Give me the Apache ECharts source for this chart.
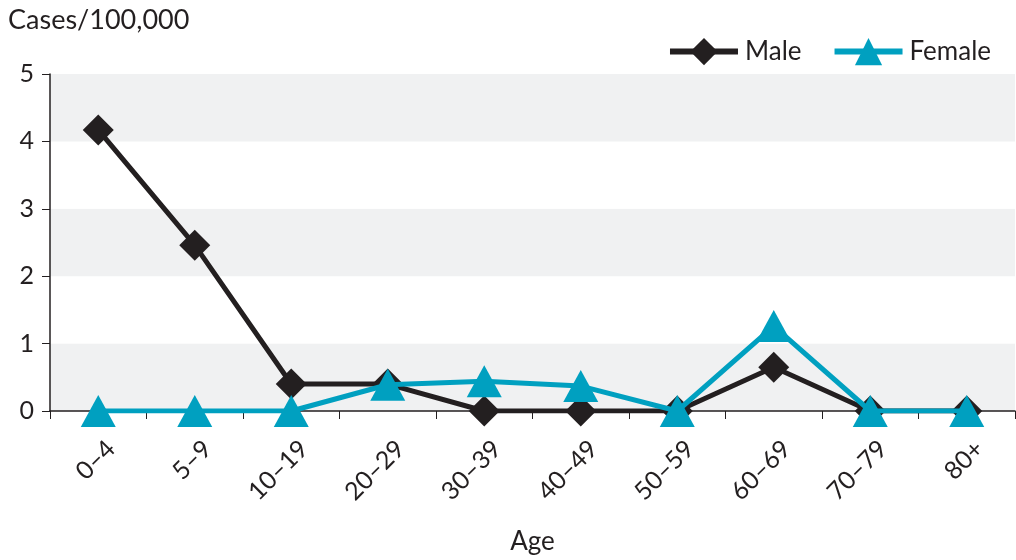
<!DOCTYPE html>
<html><head><meta charset="utf-8">
<script src="https://cdn.jsdelivr.net/npm/echarts@6/dist/echarts.min.js"></script>
<style>html,body{margin:0;padding:0;background:#fff}#c{width:1016px;height:560px}</style>
</head><body><div id="c"></div>
<script>
const categories = ['0–4','5–9','10–19','20–29','30–39','40–49','50–59','60–69','70–79','80+'];
const male = [4.17, 2.46, 0.40, 0.40, 0, 0, 0, 0.65, 0, 0];
const female = [0, 0, 0, 0.39, 0.44, 0.37, 0, 1.26, 0, 0];
const yTicks = [0, 1, 2, 3, 4, 5];

const font = 'Lato, "Open Sans", sans-serif';
const txt = '#231f20';
const chart = echarts.init(document.getElementById('c'));
chart.setOption({
  animation: false,
  textStyle: {fontFamily: font, color: txt},
  grid: {left: 50, right: 1, top: 74, bottom: 149, containLabel: false},
  legend: {
    top: 33, right: 20, itemGap: 30, itemWidth: 68, itemHeight: 34,
    lineStyle: {width: 6},
    textStyle: {fontSize: 26, color: txt, fontFamily: font, padding: [0,0,0,2]},
    data: ['Male', 'Female']
  },
  xAxis: {
    type: 'category', data: categories, boundaryGap: true,
    name: 'Age', nameLocation: 'middle', nameGap: 118,
    nameTextStyle: {fontSize: 26, color: txt, fontFamily: font},
    axisLine: {lineStyle: {color: txt, width: 1.5}},
    axisTick: {show: true, length: 8, lineStyle: {color: txt}},
    axisLabel: {rotate: 45, color: txt, margin: 21, fontFamily: font,
      formatter: v => '{a|' + v + '}',
      rich: {a: {fontSize: 25, color: txt, fontFamily: font, padding: [36, 0, 0, 0]}}}
  },
  yAxis: {
    type: 'value', min: yTicks[0], max: yTicks[yTicks.length-1], interval: 1,
    name: 'Cases/100,000', nameLocation: 'end', nameGap: 0,
    nameTextStyle: {fontSize: 27, color: txt, align: 'left', verticalAlign: 'bottom', padding: [0,0,40,-42], fontFamily: font},
    axisLine: {show: true, lineStyle: {color: txt, width: 1.5}},
    axisTick: {show: true, length: 8, lineStyle: {color: txt}},
    axisLabel: {fontSize: 25, color: txt, margin: 16, fontFamily: font},
    splitLine: {show: false},
    splitArea: {show: true, areaStyle: {color: ['#f0f1f2', '#ffffff']}}
  },
  series: [
    {name: 'Male', type: 'line', data: male, symbol: 'diamond', symbolSize: 31,
     lineStyle: {color: '#231f20', width: 5}, itemStyle: {color: '#231f20'}, z: 2},
    {name: 'Female', type: 'line', data: female, symbol: 'triangle', symbolSize: [35, 32],
     lineStyle: {color: '#00a0c0', width: 5}, itemStyle: {color: '#00a0c0'}, z: 3}
  ]
});
</script></body></html>
